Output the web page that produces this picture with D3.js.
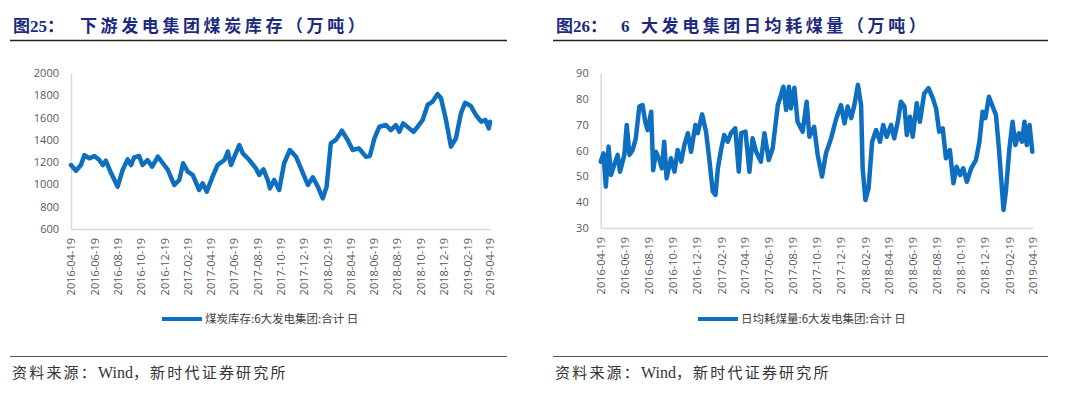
<!DOCTYPE html>
<html>
<head>
<meta charset="utf-8">
<script src="https://cdn.jsdelivr.net/npm/d3@7"></script>
<style>
  body { margin: 0; background: #fff; }
  svg { display: block; }
</style>
</head>
<body>
<svg id="pane" width="1080" height="394"></svg>
<script>

// x axis labels, shared by both charts
var tickLabels = ["2016-04-19", "2016-06-19", "2016-08-19", "2016-10-19", "2016-12-19",
    "2017-02-19", "2017-04-19", "2017-06-19", "2017-08-19", "2017-10-19", "2017-12-19",
    "2018-02-19", "2018-04-19", "2018-06-19", "2018-08-19", "2018-10-19", "2018-12-19",
    "2019-02-19", "2019-04-19"];

// 煤炭库存:6大发电集团:合计 (万吨)
var stockDates = ["2016-04-19", "2016-05-02", "2016-05-15", "2016-05-24", "2016-06-06", "2016-06-19",
    "2016-07-02", "2016-07-11", "2016-07-19", "2016-08-02", "2016-08-19", "2016-09-01", "2016-09-14",
    "2016-09-23", "2016-10-01", "2016-10-14", "2016-10-23", "2016-11-05", "2016-11-17", "2016-12-02",
    "2016-12-15", "2016-12-28", "2017-01-14", "2017-01-27", "2017-02-06", "2017-02-18", "2017-03-03",
    "2017-03-20", "2017-03-29", "2017-04-09", "2017-04-24", "2017-05-07", "2017-05-25", "2017-06-03",
    "2017-06-11", "2017-06-20", "2017-07-03", "2017-07-12", "2017-07-29", "2017-08-15", "2017-08-24",
    "2017-09-04", "2017-09-15", "2017-09-21", "2017-10-02", "2017-10-15", "2017-10-28", "2017-11-12",
    "2017-11-28", "2017-12-11", "2017-12-29", "2018-01-11", "2018-01-24", "2018-02-06", "2018-02-16",
    "2018-02-27", "2018-03-12", "2018-03-28", "2018-04-12", "2018-04-25", "2018-05-11", "2018-05-30",
    "2018-06-09", "2018-06-21", "2018-07-04", "2018-07-21", "2018-08-03", "2018-08-16", "2018-08-25",
    "2018-09-04", "2018-09-20", "2018-10-01", "2018-10-12", "2018-10-25", "2018-11-07", "2018-11-20",
    "2018-12-03", "2018-12-12", "2018-12-25", "2019-01-07", "2019-01-20", "2019-02-02", "2019-02-13",
    "2019-02-28", "2019-03-13", "2019-03-27", "2019-04-07", "2019-04-16", "2019-04-19"];
var stockValues = [1174, 1123, 1174, 1264, 1234, 1255,
    1219, 1174, 1213, 1100, 980, 1130, 1225,
    1174, 1243, 1255, 1174, 1219, 1159, 1249,
    1190, 1130, 995, 1040, 1190, 1115, 1085,
    950, 1010, 935, 1070, 1174, 1219, 1294,
    1174, 1249, 1354, 1279, 1219, 1145, 1085,
    1136, 1040, 965, 1040, 950, 1190, 1309,
    1249, 1145, 995, 1064, 980, 875, 980,
    1369, 1399, 1482, 1399, 1309, 1324, 1249,
    1255, 1414, 1518, 1533, 1488, 1533, 1473,
    1548, 1503, 1473, 1518, 1578, 1713, 1743,
    1811, 1773, 1578, 1339, 1414, 1638, 1733,
    1704, 1623, 1563, 1578, 1503, 1563];

// 日均耗煤量:6大发电集团:合计 (万吨)
var burnDates = ["2016-04-19", "2016-04-26", "2016-05-02", "2016-05-09", "2016-05-15", "2016-05-26",
    "2016-06-01", "2016-06-07", "2016-06-18", "2016-06-24", "2016-07-01", "2016-07-09", "2016-07-17",
    "2016-07-26", "2016-08-03", "2016-08-10", "2016-08-16", "2016-08-25", "2016-08-30", "2016-09-06",
    "2016-09-15", "2016-09-21", "2016-09-27", "2016-10-03", "2016-10-14", "2016-10-23", "2016-10-31",
    "2016-11-09", "2016-11-17", "2016-11-26", "2016-12-04", "2016-12-15", "2016-12-21", "2017-01-01",
    "2017-01-11", "2017-01-19", "2017-01-28", "2017-02-04", "2017-02-10", "2017-02-18", "2017-02-26",
    "2017-03-07", "2017-03-15", "2017-03-26", "2017-04-04", "2017-04-10", "2017-04-21", "2017-05-01",
    "2017-05-09", "2017-05-18", "2017-05-30", "2017-06-08", "2017-06-19", "2017-06-29", "2017-07-12",
    "2017-07-20", "2017-07-26", "2017-08-02", "2017-08-09", "2017-08-14", "2017-08-23", "2017-08-31",
    "2017-09-13", "2017-09-23", "2017-09-30", "2017-10-12", "2017-10-21", "2017-11-01", "2017-11-11",
    "2017-11-24", "2017-12-06", "2017-12-19", "2017-12-28", "2018-01-05", "2018-01-14", "2018-01-22",
    "2018-01-31", "2018-02-08", "2018-02-12", "2018-02-19", "2018-02-27", "2018-03-08", "2018-03-18",
    "2018-03-28", "2018-04-05", "2018-04-14", "2018-04-25", "2018-05-03", "2018-05-12", "2018-05-20",
    "2018-05-29", "2018-06-04", "2018-06-12", "2018-06-19", "2018-06-29", "2018-07-07", "2018-07-18",
    "2018-07-29", "2018-08-09", "2018-08-17", "2018-08-25", "2018-09-03", "2018-09-11", "2018-09-21",
    "2018-09-30", "2018-10-08", "2018-10-17", "2018-10-25", "2018-11-03", "2018-11-14", "2018-11-26",
    "2018-12-05", "2018-12-13", "2018-12-20", "2018-12-29", "2019-01-06", "2019-01-16", "2019-01-24",
    "2019-02-04", "2019-02-10", "2019-02-19", "2019-02-27", "2019-03-06", "2019-03-15", "2019-03-23",
    "2019-03-29", "2019-04-04", "2019-04-11", "2019-04-18"];
var burnValues = [55.7, 58.9, 46.0, 61.5, 50.5, 55.7,
    58.3, 51.8, 58.3, 69.9, 58.3, 60.2, 64.7,
    77.0, 77.6, 71.1, 67.9, 75.0, 52.4, 59.5,
    56.3, 53.1, 63.4, 49.2, 57.0, 51.8, 60.2,
    55.7, 62.1, 66.7, 59.5, 69.9, 66.7, 74.0,
    67.3, 57.0, 44.1, 42.8, 53.1, 60.2, 66.0,
    63.4, 66.7, 68.6, 51.8, 66.7, 67.3, 51.8,
    64.7, 59.5, 55.7, 66.7, 56.3, 60.9, 77.6,
    81.5, 84.7, 75.7, 84.7, 76.3, 84.3, 71.1,
    67.3, 78.9, 65.3, 69.2, 58.3, 49.9, 58.9,
    64.7, 71.8, 77.6, 70.5, 77.0, 72.5, 77.6,
    85.4, 77.6, 53.1, 40.8, 45.4, 63.4, 67.9,
    63.4, 69.9, 65.3, 69.9, 64.7, 71.1, 78.9,
    77.0, 66.0, 73.1, 65.3, 78.3, 71.1, 82.1,
    84.1, 80.2, 76.3, 67.3, 68.6, 57.0, 60.2,
    47.3, 53.7, 50.5, 53.1, 47.9, 53.1, 56.3,
    63.4, 75.0, 72.5, 80.8, 77.6, 73.7, 59.5,
    37.0, 44.1, 60.9, 71.1, 62.1, 66.7, 63.4,
    71.1, 62.1, 69.9, 59.5];

var stockTicks = [600, 800, 1000, 1200, 1400, 1600, 1800, 2000];
var burnTicks = [30, 40, 50, 60, 70, 80, 90];

var sourceParts = ["资料来源：", "Wind", "，新时代证券研究所"];

var lineColor = "#0E6EC0";
var parseDate = d3.timeParse("%Y-%m-%d");
var svg = d3.select("#pane");

var panel = function (opts) {

    var data = opts.dates.map(function (d, i) {
        return {date: parseDate(d), value: opts.values[i]};
    });

    // title + underline
    svg.append("text")
        .attr("x", opts.left + 3)
        .attr("y", 32)
        .attr("fill", "#1C2A80")
        .style("font-family", "'Liberation Serif', 'Noto Sans CJK SC', serif")
        .style("font-weight", "bold")
        .style("font-size", "17px")
        .text(opts.figNo);

    svg.append("text")
        .attr("x", opts.titleX)
        .attr("y", 32)
        .attr("fill", "#1C2A80")
        .style("font-family", "'Liberation Serif', 'Noto Sans CJK SC', serif")
        .style("font-weight", "bold")
        .style("font-size", "17px")
        .style("letter-spacing", "3.6px")
        .text(opts.title);

    svg.append("line")
        .attr("x1", opts.left).attr("x2", opts.right)
        .attr("y1", 40.5).attr("y2", 40.5)
        .attr("stroke", "#222").attr("stroke-width", 1.5);

    var x = d3.scaleTime()
        .domain([parseDate(tickLabels[0]), parseDate(tickLabels[tickLabels.length - 1])])
        .range([opts.x0, opts.x1]);

    var y = d3.scaleLinear()
        .domain(opts.yDomain)
        .range([opts.y1, opts.y0]);

    var xAxis = svg.append("g")
        .attr("transform", "translate(0," + opts.y1 + ")")
        .call(d3.axisBottom(x)
            .tickValues(tickLabels.map(parseDate))
            .tickFormat(d3.timeFormat("%Y-%m-%d"))
            .tickSize(0));

    xAxis.selectAll("text")
        .attr("transform", "rotate(-90)")
        .attr("x", -9)
        .attr("y", 0)
        .attr("dy", "0.35em")
        .style("text-anchor", "end");

    var yAxis = svg.append("g")
        .attr("transform", "translate(" + opts.x0 + ",0)")
        .call(d3.axisLeft(y)
            .tickValues(opts.yTicks)
            .tickFormat(d3.format("d"))
            .tickSize(0)
            .tickPadding(12));

    [xAxis, yAxis].forEach(function (g) {
        g.select(".domain").attr("stroke", "#D9D9D9").attr("stroke-width", 1.5);
        g.selectAll("text")
            .attr("fill", "#595959")
            .style("font-family", "'Open Sans', sans-serif")
            .style("font-size", "11px");
    });

    var line = d3.line()
        .x(function (d) { return x(d.date); })
        .y(function (d) { return y(d.value); });

    svg.append("path")
        .datum(data)
        .attr("d", line)
        .attr("fill", "none")
        .attr("stroke", lineColor)
        .attr("stroke-width", 4.5)
        .attr("stroke-linejoin", "round")
        .attr("stroke-linecap", "round");

    // legend
    svg.append("line")
        .attr("x1", opts.legendX).attr("x2", opts.legendX + 40)
        .attr("y1", 319).attr("y2", 319)
        .attr("stroke", lineColor).attr("stroke-width", 4);

    svg.append("text")
        .attr("x", opts.legendX + 43)
        .attr("y", 319)
        .attr("dy", "0.35em")
        .attr("fill", "#404040")
        .style("font-family", "'Noto Sans CJK SC', sans-serif")
        .style("font-size", "11.5px")
        .text(opts.legend);

    // source
    svg.append("line")
        .attr("x1", opts.left).attr("x2", opts.right)
        .attr("y1", 356.5).attr("y2", 356.5)
        .attr("stroke", "#555").attr("stroke-width", 1);

    svg.append("text")
        .attr("x", opts.left + 2)
        .attr("y", 378)
        .attr("fill", "#333")
        .style("font-family", "'Liberation Serif', 'Noto Sans CJK SC', serif")
        .style("font-size", "15px")
        .selectAll("tspan")
        .data(sourceParts)
        .enter().append("tspan")
        .style("letter-spacing", function (d, i) { return i === 1 ? "0px" : "2.2px"; })
        .style("font-size", function (d, i) { return i === 1 ? "16px" : null; })
        .text(function (d) { return d; });
};

panel({
    left: 10, right: 507, titleX: 80,
    figNo: "图25：", title: "下游发电集团煤炭库存（万吨）",
    x0: 71, x1: 490, y0: 73, y1: 229,
    yDomain: [600, 2000], yTicks: stockTicks,
    dates: stockDates, values: stockValues,
    legendX: 162, legend: "煤炭库存:6大发电集团:合计 日"
});

panel({
    left: 553, right: 1048, titleX: 621,
    figNo: "图26：", title: "6 大发电集团日均耗煤量（万吨）",
    x0: 600.7, x1: 1032.7, y0: 73, y1: 228,
    yDomain: [30, 90], yTicks: burnTicks,
    dates: burnDates, values: burnValues,
    legendX: 698, legend: "日均耗煤量:6大发电集团:合计 日"
});

</script>
</body>
</html>
